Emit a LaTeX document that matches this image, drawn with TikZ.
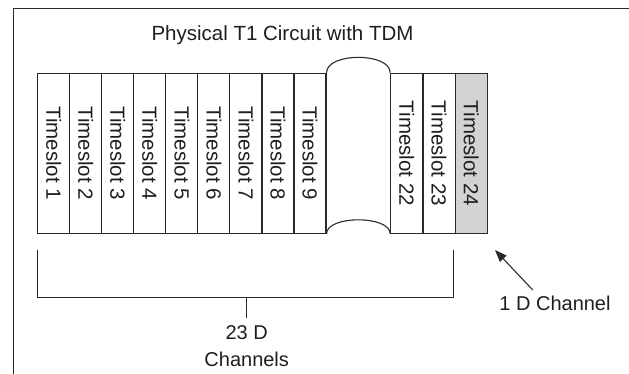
\documentclass[tikz,border=0pt]{standalone}
\usepackage{fontspec}
\setmainfont{Liberation Sans}
\usetikzlibrary{arrows.meta,calc}
\definecolor{ink}{HTML}{2A2A2A}
\definecolor{txt}{HTML}{1E1E1E}
\definecolor{slotgray}{HTML}{D3D3D5}
\begin{document}
\begin{tikzpicture}[x=1pt,y=-1pt,
  line width=1.1pt,
  every node/.style={text=txt},
  frame/.style={draw=ink,line width=1pt},
  slotbox/.style={draw=ink,minimum width=32.1pt,minimum height=160pt,inner sep=0pt,
    font=\fontsize{20.5}{24}\selectfont},
  lbl/.style={inner sep=0pt,font=\fontsize{20}{26.7}\selectfont},
  arr/.style={draw=ink,line width=1.1pt,-{Triangle[length=12pt,width=9pt]}}]
\useasboundingbox (0,0) rectangle (629,374);
\draw[frame] (13,374) -- (13,9) -- (629,9);
\node[lbl,anchor=base,font=\fontsize{20.5}{24}\selectfont] (title) at (282.5,41) {Physical T1 Circuit with TDM};
% slots
\foreach \i/\t in {1/1,2/2,3/3,4/4,5/5,6/6,7/7,8/8,9/9}{
  \node[slotbox] (s\t) at ({37.7+16.02+(\i-1)*32.03},153.3) {\rotatebox{-90}{Timeslot \t}};
}
\node[slotbox] (s22) at (406.8,153.3) {\rotatebox{-90}{Timeslot 22}};
\node[slotbox] (s23) at (439.0,153.3) {\rotatebox{-90}{Timeslot 23}};
\node[slotbox,fill=slotgray] (s24) at (471.2,153.3) {\rotatebox{-90}{Timeslot 24}};
% cylinder gap
\draw[ink] (s9.north east) .. controls +(0,-20.5) and +(0,-20.5) .. (s22.north west);
\draw[ink] (s9.south east) .. controls +(0,-18.7) and +(0,-18.7) .. (s22.south west);
% bracket
\coordinate (bl) at (37.7,250);
\coordinate (blb) at (37.7,297.7);
\coordinate (brb) at (453.3,297.7);
\coordinate (br) at (453.3,250);
\coordinate (bm) at (246.7,297.7);
\draw[ink] (bl) -- (blb) -- (brb) -- (br);
\node[lbl,align=center,anchor=north,inner ysep=0pt] (lab23) at (246.7,325) {23 D\\Channels};
\draw[ink] (bm) -- ([yshift=7pt]lab23.north);
% 1 D channel
\node[lbl,anchor=base] (lab1) at (555,310) {1 D Channel};
\coordinate (tip) at (495,250);
\draw[arr] ([xshift=-22.3pt,yshift=5pt]lab1.north) -- (tip);
\end{tikzpicture}
\end{document}
